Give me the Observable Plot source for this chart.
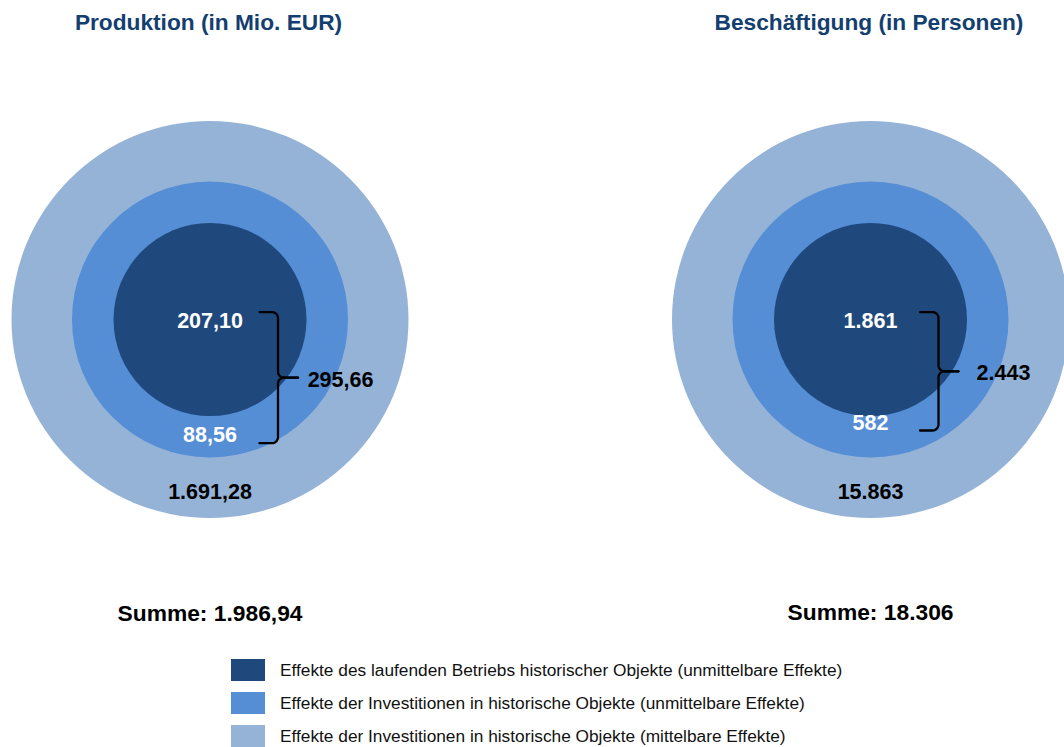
<!DOCTYPE html>
<html>
<head>
<meta charset="utf-8">
<script src="https://cdn.jsdelivr.net/npm/d3@7"></script>
<script src="https://cdn.jsdelivr.net/npm/@observablehq/plot@0.6"></script>
<style>
  html, body { margin: 0; padding: 0; background: #fff; overflow: hidden; }
  #legend { padding: 9px 0 0 231px; font-family: "Liberation Sans", Arial, Helvetica, sans-serif; font-size: 17.3px; color: #111; }
  #legend .row { display: flex; align-items: center; height: 22px; margin-bottom: 11px; }
  #legend .sw { width: 34px; height: 22px; margin-right: 15px; flex: none; }
</style>
</head>
<body>
<div id="chart"></div>
<div id="legend"></div>
<script>
// ---------- Data ----------
const panels = ["Produktion (in Mio. EUR)", "Beschäftigung (in Personen)"];
const effectLabels = [
  "Effekte des laufenden Betriebs historischer Objekte (unmittelbare Effekte)",
  "Effekte der Investitionen in historische Objekte (unmittelbare Effekte)",
  "Effekte der Investitionen in historische Objekte (mittelbare Effekte)"
];
const betrieb = [207.10, 1861];          // inner circle
const investDirect = [88.56, 582];       // middle ring
const investIndirect = [1691.28, 15863]; // outer ring
const directTotal = [295.66, 2443];      // bracket sum
const grandTotal = [1986.94, 18306];     // Summe
const decimals = [2, 0];

// ---------- Layout / style ----------
const W = 1064, H = 650;
const ringColors = ["#1F497D", "#558ED5", "#95B3D7"];
const ringRadius = [96.5, 138, 198.5];
const centreX = 209.5, centreY = 319, panelStep = 660.5, panelWidth = 403.5;
const FONT = '"Liberation Sans", Arial, Helvetica, sans-serif';
const valueSize = 21.5, titleSize = 22.7, totalSize = 22.8;
const titleColor = "#133E70";
const innerY = 8, lowerY = [122.7, 110], outerY = 179, totalY = [301.7, 300], titleY = -290;
const sumX = [130.5, 133];
const brace = {end: 49.5, spine: 68, tip: 88, r: 6};

const de = d3.formatLocale({decimal: ",", thousands: ".", grouping: [3], currency: ["", " €"]});
const fmt = decimals.map(k => de.format(`,.${k}f`));

const rings = panels.flatMap(p => [2, 1, 0].map(layer => ({panel: p, layer})));

const whiteLabels = [], blackLabels = [], totals = [], titles = [], bracePts = [];
panels.forEach((p, i) => {
  const top = innerY - 0.716 * valueSize;
  const bottom = lowerY[i] + 1;
  const mid = (top + bottom) / 2;
  whiteLabels.push({panel: p, text: fmt[i](betrieb[i]), x: 0, y: innerY});
  whiteLabels.push({panel: p, text: fmt[i](investDirect[i]), x: 0, y: lowerY[i]});
  blackLabels.push({panel: p, text: fmt[i](directTotal[i]), x: sumX[i], y: mid + 9});
  blackLabels.push({panel: p, text: fmt[i](investIndirect[i]), x: 0, y: outerY});
  totals.push({panel: p, text: "Summe: " + fmt[i](grandTotal[i]), x: 0, y: totalY[i]});
  titles.push({panel: p, text: p, x: -1.5, y: titleY});

  const {end, spine, tip, r} = brace;
  const arc = (cx, cy, a0, a1, part) => {
    for (let k = 0; k <= 8; k++) {
      const a = a0 + (a1 - a0) * k / 8;
      bracePts.push({panel: p, part, x: cx + r * Math.cos(a), y: cy + r * Math.sin(a)});
    }
  };
  bracePts.push({panel: p, part: "top", x: end, y: top});
  arc(spine - r, top + r, -Math.PI / 2, 0, "top");
  arc(spine + r, mid - r, Math.PI, Math.PI / 2, "top");
  bracePts.push({panel: p, part: "top", x: tip, y: mid});
  bracePts.push({panel: p, part: "bottom", x: end, y: bottom});
  arc(spine - r, bottom - r, Math.PI / 2, 0, "bottom");
  arc(spine + r, mid + r, Math.PI, 3 * Math.PI / 2, "bottom");
  bracePts.push({panel: p, part: "bottom", x: tip, y: mid});
});

const chart = Plot.plot({
  width: W,
  height: H,
  margin: 0,
  style: {fontFamily: FONT, background: "#fff", overflow: "hidden"},
  fx: {domain: panels, paddingInner: 2 - W / panelStep, paddingOuter: 0, round: false, axis: null, label: null},
  x: {domain: [-centreX, panelWidth - centreX], axis: null},
  y: {domain: [-centreY, H - centreY], reverse: true, axis: null},
  r: {type: "identity"},
  color: {domain: effectLabels, range: ringColors},
  marks: [
    Plot.dot(rings, {fx: "panel", x: () => 0, y: () => 0, r: d => ringRadius[d.layer], fill: d => effectLabels[d.layer], stroke: null}),
    Plot.line(bracePts, {fx: "panel", x: "x", y: "y", z: "part", stroke: "#000", strokeWidth: 2.3, curve: "linear"}),
    Plot.text(whiteLabels, {fx: "panel", x: "x", y: "y", text: "text", fill: "#fff", fontSize: valueSize, fontWeight: "bold", lineAnchor: "bottom"}),
    Plot.text(blackLabels, {fx: "panel", x: "x", y: "y", text: "text", fill: "#000", fontSize: valueSize, fontWeight: "bold", lineAnchor: "bottom"}),
    Plot.text(totals, {fx: "panel", x: "x", y: "y", text: "text", fill: "#000", fontSize: totalSize, fontWeight: "bold", lineAnchor: "bottom"}),
    Plot.text(titles, {fx: "panel", x: "x", y: "y", text: "text", fill: titleColor, fontSize: titleSize, fontWeight: "bold", lineAnchor: "bottom"})
  ]
});
document.getElementById("chart").appendChild(chart);

// Legend from the plot's color scale
const cs = chart.scale("color");
const legend = document.getElementById("legend");
cs.domain.forEach((label, i) => {
  const row = document.createElement("div");
  row.className = "row";
  const sw = document.createElement("div");
  sw.className = "sw";
  sw.style.background = cs.range[i];
  const tx = document.createElement("span");
  tx.textContent = label;
  row.appendChild(sw);
  row.appendChild(tx);
  legend.appendChild(row);
});
</script>
</body>
</html>
